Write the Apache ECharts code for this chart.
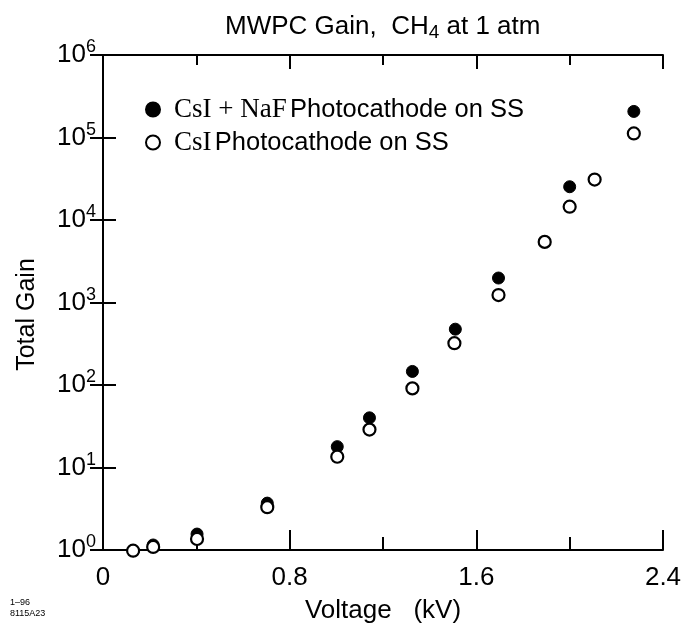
<!DOCTYPE html>
<html>
<head>
<meta charset="utf-8">
<script src="https://cdn.jsdelivr.net/npm/echarts@6/dist/echarts.min.js"></script>
<style>
  html, body { margin: 0; padding: 0; background: #fff; }
  #main { width: 690px; height: 631px; }
</style>
</head>
<body>
<div id="main"></div>
<script>
// voltages (kV) and total gain
const naf_volts = [0.13, 0.215, 0.403, 0.704, 1.004, 1.142, 1.326, 1.51, 1.695, 2.0, 2.275];
const naf_gain  = [0.98, 1.15, 1.56, 3.7, 17.9, 40, 146, 475, 1980, 25300, 207000];

const csi_volts = [0.129, 0.215, 0.403, 0.704, 1.004, 1.142, 1.326, 1.506, 1.695, 1.893, 2.0, 2.107, 2.275];
const csi_gain  = [0.98, 1.09, 1.36, 3.3, 13.5, 28.8, 91, 321, 1230, 5430, 14500, 30900, 112000];

const x_labels = ['0', '0.8', '1.6', '2.4'];

const SANS = '"Liberation Sans", Arial, Helvetica, sans-serif';
const SERIF = '"Liberation Serif", "Times New Roman", serif';

const zip = (xs, ys) => xs.map((x, i) => [x, ys[i]]);

var myChart = echarts.init(document.getElementById('main'));

const xAxisBase = {
  type: 'value',
  min: 0,
  max: 2.4,
  interval: 0.8,
  splitLine: { show: false },
  axisLine: { lineStyle: { color: '#000', width: 2 } },
  axisTick: { inside: true, length: 20, lineStyle: { color: '#000', width: 2 } },
  minorTick: { show: true, splitNumber: 2, length: 13, lineStyle: { color: '#000', width: 2 } },
  minorSplitLine: { show: false }
};

const yAxisBase = {
  type: 'log',
  logBase: 10,
  min: 1,
  max: 1000000,
  splitLine: { show: false },
  axisLine: { lineStyle: { color: '#000', width: 2 } },
  axisTick: { inside: true, length: 13, lineStyle: { color: '#000', width: 2 } }
};

var option = {
  backgroundColor: '#fff',
  animation: false,
  title: {
    text: '{a|MWPC Gain,  CH}{sub|4}{a| at 1 atm}',
    left: 220,
    top: 6,
    textStyle: {
      fontWeight: 'normal',
      rich: {
        a: { fontFamily: SANS, fontSize: 26, fontWeight: 'normal', color: '#000' },
        sub: { fontFamily: SANS, fontSize: 19, fontWeight: 'normal', color: '#000', padding: [12, 0, 0, 0] }
      }
    }
  },
  legend: {
    orient: 'vertical',
    left: 140,
    top: 91,
    itemGap: 6,
    itemWidth: 14,
    itemHeight: 14,
    data: [
      { name: 'naf', icon: 'circle' },
      { name: 'csi', icon: 'circle' }
    ],
    formatter: (name) => {
      if (name === 'naf') {
        return '{serif|CsI + NaF} {sans|Photocathode on SS}';
      }
      return '{serif|CsI} {sans|Photocathode on SS}';
    },
    textStyle: {
      padding: [0, 0, 0, 9],
      rich: {
        serif: { fontFamily: SERIF, fontSize: 27, lineHeight: 28, color: '#000' },
        sans: { fontFamily: SANS, fontSize: 25.5, lineHeight: 28, color: '#000' }
      }
    }
  },
  grid: {
    left: 103,
    right: 27,
    top: 55,
    bottom: 81
  },
  xAxis: [
    Object.assign({}, xAxisBase, {
      position: 'bottom',
      name: 'Voltage   (kV)',
      nameLocation: 'middle',
      nameGap: 48,
      nameTextStyle: { fontFamily: SANS, fontSize: 26, color: '#000' },
      axisLabel: {
        margin: 15,
        fontFamily: SANS,
        fontSize: 26,
        color: '#000',
        formatter: (v) => x_labels[Math.round(v / 0.8)]
      }
    }),
    Object.assign({}, xAxisBase, {
      position: 'top',
      axisLabel: { show: false },
      axisTick: { inside: true, length: 14, lineStyle: { color: '#000', width: 2 } },
      minorTick: { show: true, splitNumber: 2, length: 10, lineStyle: { color: '#000', width: 2 } }
    })
  ],
  yAxis: [
    Object.assign({}, yAxisBase, {
      position: 'left',
      name: 'Total Gain',
      nameLocation: 'middle',
      nameGap: 63,
      nameTextStyle: { fontFamily: SANS, fontSize: 25, color: '#000', padding: [0, 24, 0, 0] },
      axisLabel: {
        margin: 7,
        color: '#000',
        formatter: (v) => '{b|10}{s|' + Math.round(Math.log10(v)) + '}',
        rich: {
          b: { fontFamily: SANS, fontSize: 26, color: '#000' },
          s: { fontFamily: SANS, fontSize: 18, color: '#000', padding: [0, 0, 15, 0] }
        }
      }
    }),
    Object.assign({}, yAxisBase, {
      position: 'right',
      axisLabel: { show: false }
    })
  ],
  series: [
    {
      name: 'naf',
      type: 'scatter',
      xAxisIndex: 0,
      yAxisIndex: 0,
      symbol: 'circle',
      symbolSize: 12,
      clip: false,
      itemStyle: { color: '#000', borderColor: '#000', borderWidth: 1, opacity: 1 },
      data: zip(naf_volts, naf_gain),
      z: 2
    },
    {
      name: 'csi',
      type: 'scatter',
      xAxisIndex: 0,
      yAxisIndex: 0,
      symbol: 'circle',
      symbolSize: 12,
      clip: false,
      itemStyle: { color: '#fff', borderColor: '#000', borderWidth: 2.2, opacity: 1 },
      data: zip(csi_volts, csi_gain),
      z: 3
    }
  ],
  graphic: [
    {
      type: 'text',
      left: 10,
      top: 597,
      style: { text: '1–96\n8115A23', font: '9px ' + SANS, fill: '#000', lineHeight: 11 }
    }
  ]
};

myChart.setOption(option);
window.addEventListener('resize', () => {
  myChart.resize();
});
</script>
</body>
</html>
